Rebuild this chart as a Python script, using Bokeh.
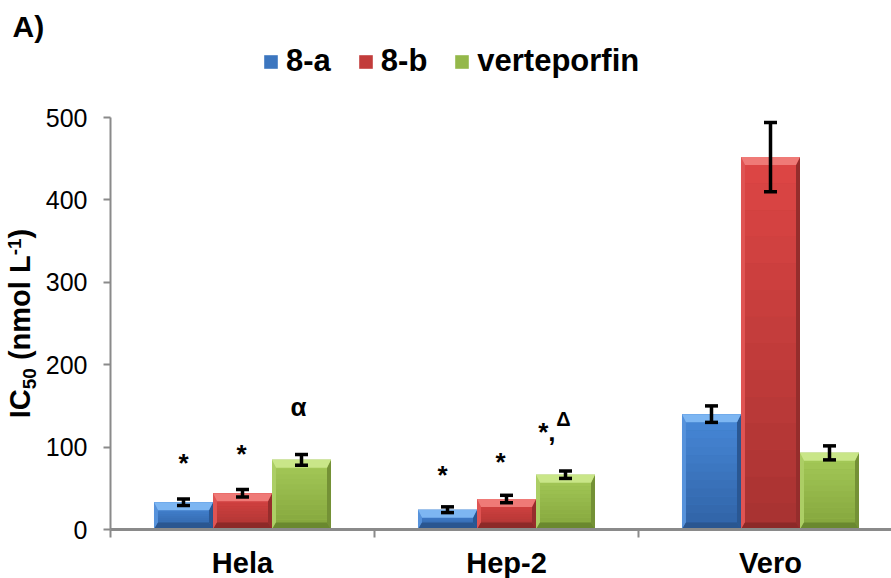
from math import pi
from bokeh.plotting import figure
from bokeh.models import (Range1d, FixedTicker, Label, Legend, LegendItem,
                          Whisker, TeeHead, ColumnDataSource)
from bokeh.core.properties import value
from bokeh.embed import file_html
from bokeh.resources import INLINE

# ---------------- data ----------------
categories = ["Hela", "Hep-2", "Vero"]
series = ["8-a", "8-b", "verteporfin"]
ic50_8a = [33, 24, 140]
ic50_8b = [44, 37, 452]
ic50_vert = [84.5, 66.5, 93]
err_8a = [4, 3.5, 10]
err_8b = [4.5, 4.5, 42]
err_vert = [6.5, 4.5, 8.5]
y_ticks = [0, 100, 200, 300, 400, 500]

# significance marks: (category index, series index, text, y)
sig_cat = [0, 0, 0, 1, 1]
sig_ser = [0, 1, 2, 0, 1]
sig_text = ["*", "*", "α", "*", "*"]
sig_y = [81, 92, 149, 66.5, 81.5]
comp_cat, comp_ser = 1, 2
comp_main, comp_main_y = "*,", 118.5
comp_sup, comp_sup_y = "Δ", 133.5

values = [ic50_8a, ic50_8b, ic50_vert]
errors = [err_8a, err_8b, err_vert]

# ---------------- layout / styling ----------------
FONT = "Liberation Sans"
GRAY = "#8a8a8a"
W, H = 891, 578
X0_PX = 110.0          # canvas x of the y axis
Y0_PX = 529.0          # canvas y of value 0
Y500_PX = 117.0        # canvas y of value 500
PX_X = 264.0           # px per category
PX_Y = (Y0_PX - Y500_PX) / 500.0
BAR_W = 0.2235
offsets = [-BAR_W, 0.0, BAR_W]
BASE_SHIFT = 0.45      # rendered baseline lies this many em below the anchor
sig_dx = [0, -1, -3, -5, -6]   # small horizontal nudges of the marks, px

face_top = ["#4788d8", "#dc4544", "#a5ca58"]
face_bot = ["#3063a6", "#a93332", "#84a53d"]
bevel_top = ["#7db6f2", "#ef7a77", "#c9e688"]
bevel_bot = ["#2a5690", "#8c2928", "#6a882f"]


def hex2rgb(h):
    h = h.lstrip("#")
    return [int(h[i:i + 2], 16) for i in (0, 2, 4)]


def mix(c1, c2, t):
    a, b = hex2rgb(c1), hex2rgb(c2)
    return "#%02x%02x%02x" % tuple(int(round(a[i] + (b[i] - a[i]) * t)) for i in range(3))


x_range = Range1d(-X0_PX / PX_X, (W - X0_PX) / PX_X)
y_range = Range1d(-(H - Y0_PX) / PX_Y, 500 + Y500_PX / PX_Y)

p = figure(width=W, height=H, x_range=x_range, y_range=y_range,
           output_backend="svg", toolbar_location=None,
           min_border_left=0, min_border_right=0, min_border_top=0, min_border_bottom=0)
p.xgrid.visible = False
p.ygrid.visible = False
p.outline_line_color = None
p.background_fill_color = "white"
p.border_fill_color = "white"

# ---------------- bars ----------------
legend_renderers = []
NB = 14
dxs = 4.0 / PX_X
dyt = 8.0 / PX_Y
dyb = 7.0 / PX_Y
for j in range(3):
    xc = [i + 0.5 + offsets[j] for i in range(len(categories))]
    v = values[j]
    L = [x - BAR_W / 2 for x in xc]
    R = [x + BAR_W / 2 for x in xc]
    r = p.quad(left=L, right=R, bottom=[0] * 3, top=v,
               fill_color=mix(face_top[j], face_bot[j], 0.5), line_color=None)
    legend_renderers.append(r)
    bl, br, bb, bt, bc = [], [], [], [], []
    for i in range(3):
        for k in range(NB):
            bl.append(L[i]); br.append(R[i])
            bb.append(v[i] * k / NB); bt.append(v[i] * (k + 1) / NB)
            bc.append(mix(face_bot[j], face_top[j], k / (NB - 1)))
    p.quad(left=bl, right=br, bottom=bb, top=bt, fill_color=bc, line_color=None)
    xs, ys, cs = [], [], []
    for i in range(3):
        l, rr, t = L[i], R[i], v[i]
        xs.append([l, l, l + dxs, l + dxs]); ys.append([0, t, t - dyt, dyb])
        cs.append(mix(face_top[j], "#ffffff", 0.08))
        xs.append([rr, rr, rr - dxs, rr - dxs]); ys.append([0, t, t - dyt, dyb])
        cs.append(mix(face_bot[j], "#000000", 0.12))
        xs.append([l, rr, rr - dxs, l + dxs]); ys.append([t, t, t - dyt, t - dyt])
        cs.append(bevel_top[j])
        xs.append([l, rr, rr - dxs, l + dxs]); ys.append([0, 0, dyb, dyb])
        cs.append(bevel_bot[j])
    p.patches(xs, ys, fill_color=cs, line_color=None)

    src = ColumnDataSource(dict(x=xc, upper=[a + b for a, b in zip(v, errors[j])],
                                lower=[a - b for a, b in zip(v, errors[j])]))
    wk = Whisker(source=src, base="x", upper="upper", lower="lower", dimension="height",
                 line_color="black", line_width=3.5,
                 upper_head=TeeHead(size=13, line_width=3.5, line_color="black"),
                 lower_head=TeeHead(size=13, line_width=3.5, line_color="black"),
                 level="overlay")
    p.add_layout(wk)

# ---------------- significance marks ----------------
sx = [c + 0.5 + offsets[s] for c, s in zip(sig_cat, sig_ser)]
p.text(x=sx, y=sig_y, text=sig_text, x_offset=sig_dx, text_font=value(FONT),
       text_font_size="26px", text_font_style="bold", text_align="center",
       text_baseline="alphabetic", text_color="black")
cx = comp_cat + 0.5 + offsets[comp_ser]
p.text(x=[cx], y=[comp_main_y], text=[comp_main], text_font=value(FONT), text_font_size="26px",
       text_font_style="bold", text_align="right", text_baseline="alphabetic", x_offset=-10,
       text_color="black")
p.text(x=[cx], y=[comp_sup_y], text=[comp_sup], text_font=value(FONT), text_font_size="20px",
       text_font_style="bold", text_align="center", text_baseline="alphabetic", x_offset=-2,
       text_color="black")

# ---------------- axes (fixed inside the full-canvas frame) ----------------
xa = p.xaxis[0]
xa.fixed_location = 0
xa.bounds = (0, len(categories))
xa.ticker = FixedTicker(ticks=[i + 0.5 for i in range(len(categories))],
                        minor_ticks=list(range(len(categories) + 1)))
xa.major_label_overrides = {i + 0.5: c for i, c in enumerate(categories)}
xa.major_tick_out = 0
xa.major_tick_in = 0
xa.minor_tick_out = 8
xa.minor_tick_in = 0
xa.minor_tick_line_color = GRAY
xa.minor_tick_line_width = 2
xa.axis_line_color = GRAY
xa.axis_line_width = 3
xa.major_label_text_font = FONT
xa.major_label_text_font_size = "29px"
xa.major_label_text_font_style = "bold"
xa.major_label_text_color = "black"
xa.major_label_standoff = 9

ya = p.yaxis[0]
ya.fixed_location = 0
ya.bounds = (0, 500)
ya.ticker = FixedTicker(ticks=y_ticks)
ya.major_tick_out = 7
ya.major_tick_in = 0
ya.minor_tick_out = 0
ya.minor_tick_in = 0
ya.major_tick_line_color = GRAY
ya.major_tick_line_width = 2
ya.axis_line_color = GRAY
ya.axis_line_width = 2
ya.major_label_text_font = FONT
ya.major_label_text_font_size = "25px"
ya.major_label_text_color = "black"
ya.major_label_standoff = 16

# ---------------- y axis title, built from pieces (sub/superscript) ----------------
ADV = {"I": 278, "C": 722, " ": 278, "(": 333, "n": 611, "m": 889, "o": 611, "l": 278,
       "L": 611, ")": 333, "5": 556, "0": 556, "-": 333, "1": 556}
F_BIG, F_SMALL = 29, 19
pieces = [("IC", F_BIG, 0), ("50", F_SMALL, 5), (" ", F_BIG, 0), ("(nmol L", F_BIG, 0),
          ("-1", F_SMALL, -10), (")", F_BIG, 0)]
total = sum(sum(ADV[ch] for ch in t) * f / 1000.0 for t, f, _ in pieces)
title_center_y = 323.0   # canvas px
baseline_x = 33.0        # canvas px of the wanted baseline
pos = title_center_y + total / 2.0
for t, f, shift in pieces:
    if t.strip():
        p.add_layout(Label(x=baseline_x + shift - BASE_SHIFT * f, y=H - pos,
                           x_units="screen", y_units="screen",
                           angle=pi / 2, text=t, text_font=FONT, text_font_size="%dpx" % f,
                           text_font_style="bold", text_color="black",
                           text_align="left", text_baseline="alphabetic"))
    pos -= sum(ADV[ch] for ch in t) * f / 1000.0

# panel letter
p.add_layout(Label(x=12, y=H - 39 + BASE_SHIFT * 30, x_units="screen", y_units="screen",
                   text="A)", text_font=FONT, text_font_size="30px", text_font_style="bold",
                   text_color="black", text_align="left", text_baseline="alphabetic"))

# ---------------- legend ----------------
legend = Legend(items=[LegendItem(label=s, renderers=[r]) for s, r in zip(series, legend_renderers)],
                location=(262, H - 79), orientation="horizontal", glyph_width=17, glyph_height=17,
                label_standoff=7, spacing=26, padding=0, margin=0, border_line_color=None,
                background_fill_alpha=0, label_text_font=FONT, label_text_font_size="31px",
                label_text_font_style="bold", label_text_color="black")
p.add_layout(legend, "center")

open("out.html", "w").write(file_html(p, INLINE))
